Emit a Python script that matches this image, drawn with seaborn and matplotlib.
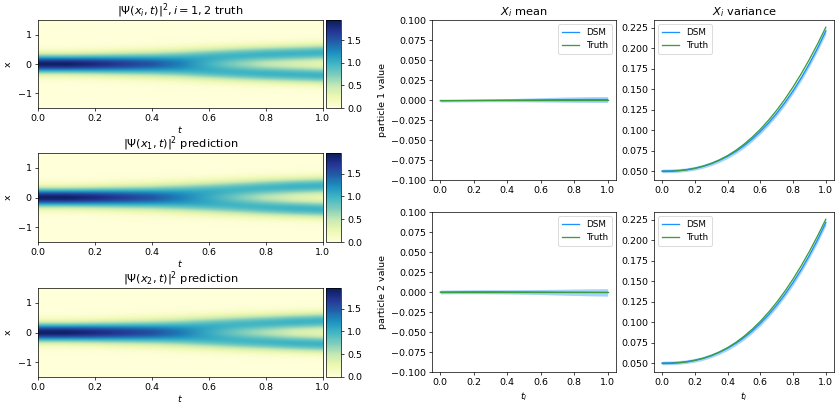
import numpy as np
import pandas as pd
import matplotlib
matplotlib.use("Agg")
import matplotlib.pyplot as plt
import seaborn as sns

# ---------------- data ----------------
# heatmap: density |Psi|^2 described at time knots by two gaussian branches
t_knots = [0.0, 0.1, 0.2, 0.3, 0.4, 0.5, 0.6, 0.7, 0.8, 0.9, 1.0]
truth_half_sep = [0.00, 0.00, 0.03, 0.07, 0.12, 0.18, 0.24, 0.29, 0.33, 0.36, 0.39]
truth_width = [0.21, 0.21, 0.22, 0.23, 0.23, 0.22, 0.21, 0.205, 0.20, 0.20, 0.20]
pred1_half_sep = [0.00, 0.00, 0.03, 0.07, 0.12, 0.18, 0.23, 0.28, 0.33, 0.37, 0.40]
pred1_width = [0.21, 0.21, 0.22, 0.23, 0.23, 0.22, 0.215, 0.21, 0.205, 0.20, 0.20]
pred2_half_sep = [0.00, 0.00, 0.03, 0.06, 0.11, 0.17, 0.23, 0.28, 0.32, 0.36, 0.39]
pred2_width = [0.21, 0.21, 0.22, 0.23, 0.23, 0.225, 0.215, 0.21, 0.205, 0.20, 0.20]

# mean curves
p1_dsm_mean = [-0.0010, -0.0008, -0.0006, -0.0004, -0.0002, 0.0000, 0.0002, 0.0004, 0.0005, 0.0006, 0.0006]
p1_dsm_mean_sd = [0.0016, 0.0016, 0.0017, 0.0018, 0.0020, 0.0023, 0.0027, 0.0031, 0.0034, 0.0036, 0.0037]
p2_dsm_mean = [0.0000, 0.0002, 0.0003, 0.0003, 0.0002, 0.0001, 0.0000, -0.0002, -0.0003, -0.0004, -0.0005]
p2_dsm_mean_sd = [0.0024, 0.0024, 0.0025, 0.0026, 0.0027, 0.0029, 0.0032, 0.0036, 0.0040, 0.0044, 0.0047]
truth_mean = [0.0, 0.0, 0.0, 0.0, 0.0, 0.0, 0.0, 0.0, 0.0, 0.0, 0.0]

# variance curves
t_var = [0.00, 0.05, 0.10, 0.15, 0.20, 0.25, 0.30, 0.35, 0.40, 0.45, 0.50,
         0.55, 0.60, 0.65, 0.70, 0.75, 0.80, 0.85, 0.90, 0.95, 1.00]
truth_var = [0.0495, 0.0497, 0.0503, 0.0515, 0.0533, 0.0559, 0.0593, 0.0636, 0.0689, 0.0753, 0.0828,
             0.0914, 0.1011, 0.1121, 0.1243, 0.1378, 0.1527, 0.1689, 0.1864, 0.2053, 0.2255]
p1_dsm_var = [0.0502, 0.0503, 0.0508, 0.0518, 0.0535, 0.0559, 0.0591, 0.0632, 0.0681, 0.0740, 0.0810,
              0.0891, 0.0983, 0.1088, 0.1205, 0.1336, 0.1480, 0.1638, 0.1812, 0.2002, 0.2210]
p2_dsm_var = [0.0503, 0.0504, 0.0509, 0.0519, 0.0536, 0.0559, 0.0592, 0.0633, 0.0683, 0.0742, 0.0812,
              0.0893, 0.0986, 0.1091, 0.1209, 0.1340, 0.1485, 0.1643, 0.1817, 0.2007, 0.2215]
dsm_var_sd = [0.0022, 0.0022, 0.0022, 0.0022, 0.0023, 0.0023, 0.0024, 0.0025, 0.0026, 0.0027, 0.0028,
              0.0029, 0.0030, 0.0031, 0.0032, 0.0033, 0.0034, 0.0035, 0.0036, 0.0037, 0.0038]

heat_titles = [r"$|\Psi(x_i,t)|^2, i=1,2$ truth",
               r"$|\Psi(x_1,t)|^2$ prediction",
               r"$|\Psi(x_2,t)|^2$ prediction"]

# ---------------- figure ----------------
DPI = 63
W, H = 839, 404
plt.rcParams["font.size"] = 10.8
plt.rcParams["legend.fontsize"] = 10
fig = plt.figure(figsize=(W / DPI, H / DPI), dpi=DPI)


def rect(left, top, right, bottom):
    return [left / W, 1 - bottom / H, (right - left) / W, (bottom - top) / H]


x_grid = np.linspace(-1.5, 1.5, 301)


def field(half_sep, width):
    d = np.asarray(half_sep)[None, :]
    s = np.asarray(width)[None, :]
    xx = x_grid[:, None]
    g = lambda c: np.exp(-0.5 * ((xx - c) / s) ** 2) / (np.sqrt(2 * np.pi) * s)
    return 0.5 * (g(d) + g(-d))


cmap = sns.color_palette("YlGnBu", as_cmap=True)
fields = [field(truth_half_sep, truth_width),
          field(pred1_half_sep, pred1_width),
          field(pred2_half_sep, pred2_width)]
rows = [(20, 108), (153, 242), (288, 377)]
dt = t_knots[1] - t_knots[0]
for (top, bot), Z, title in zip(rows, fields, heat_titles):
    ax = fig.add_axes(rect(38, top, 322.7, bot))
    cax = fig.add_axes(rect(326, top, 341, bot))
    im = ax.imshow(Z, origin="lower", aspect="auto", cmap=cmap,
                   extent=[t_knots[0] - dt / 2, t_knots[-1] + dt / 2, -1.5, 1.5],
                   interpolation="bilinear", vmin=0, vmax=1.95)
    ax.set_xlim(0, 1)
    ax.set_ylim(-1.5, 1.5)
    ax.set_xticks([0.0, 0.2, 0.4, 0.6, 0.8, 1.0])
    ax.set_yticks([-1, 0, 1])
    ax.set_xlabel(r"$t$", labelpad=1)
    ax.set_ylabel("x", labelpad=6)
    ax.set_title(title, pad=3)
    cb = fig.colorbar(im, cax=cax)
    cb.set_ticks([0.0, 0.5, 1.0, 1.5])

dsm_color = "#1e90ff"
truth_color = "#3a9e3a"


def line_panel(ax, t, dsm, sd, truth, loc):
    dsm = np.asarray(dsm)
    sd = np.asarray(sd)
    ax.fill_between(t, dsm - sd, dsm + sd, color=dsm_color, alpha=0.4, linewidth=0)
    sns.lineplot(x=t, y=dsm, ax=ax, color=dsm_color, label="DSM", linewidth=1.5)
    sns.lineplot(x=t, y=truth, ax=ax, color=truth_color, label="Truth", linewidth=1.5)
    ax.legend(loc=loc)
    ax.set_xticks([0.0, 0.2, 0.4, 0.6, 0.8, 1.0])


ax_m1 = fig.add_axes(rect(432, 20, 616, 180))
line_panel(ax_m1, t_knots, p1_dsm_mean, p1_dsm_mean_sd, truth_mean, "upper right")
ax_m1.set_ylim(-0.1, 0.1)
ax_m1.set_yticks(np.arange(-0.1, 0.1001, 0.025))
ax_m1.set_title(r"$X_i$ mean", pad=5)
ax_m1.set_ylabel("particle 1 value")

ax_v1 = fig.add_axes(rect(654, 20, 834, 180))
line_panel(ax_v1, t_var, p1_dsm_var, dsm_var_sd, truth_var, "upper left")
ax_v1.set_title(r"$X_i$ variance", pad=5)

ax_m2 = fig.add_axes(rect(432, 212, 616, 372))
line_panel(ax_m2, t_knots, p2_dsm_mean, p2_dsm_mean_sd, truth_mean, "upper right")
ax_m2.set_ylim(-0.1, 0.1)
ax_m2.set_yticks(np.arange(-0.1, 0.1001, 0.025))
ax_m2.set_ylabel("particle 2 value")
ax_m2.set_xlabel(r"$t_i$")

ax_v2 = fig.add_axes(rect(654, 212, 834, 372))
line_panel(ax_v2, t_var, p2_dsm_var, dsm_var_sd, truth_var, "upper left")
ax_v2.set_xlabel(r"$t_i$")

for a in (ax_v1, ax_v2):
    a.set_yticks([0.05, 0.075, 0.1, 0.125, 0.15, 0.175, 0.2, 0.225])
    a.yaxis.set_major_formatter(matplotlib.ticker.FormatStrFormatter("%.3f"))

fig.savefig("out.png", dpi=DPI, facecolor="white")
